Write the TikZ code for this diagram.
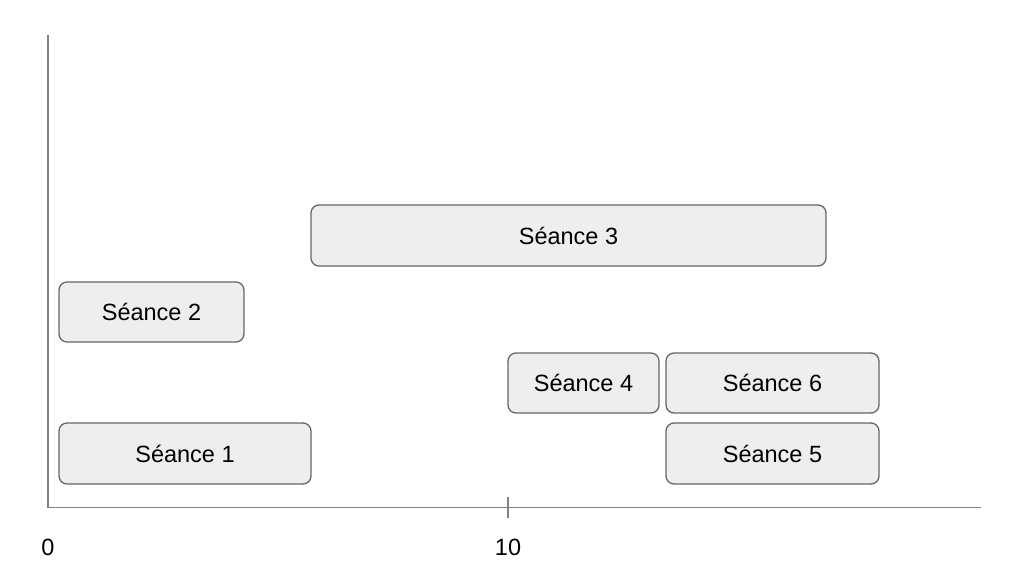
\documentclass[tikz,border=0pt]{standalone}
\usepackage{fontspec}
\setmainfont{Liberation Sans}
\definecolor{boxfill}{HTML}{EEEEEE}
\definecolor{boxline}{HTML}{666666}
\definecolor{axisline}{HTML}{808080}
\begin{document}
\begin{tikzpicture}[x=1pt,y=-1pt,
  seance/.style={draw=boxline,fill=boxfill,line width=1.3pt,rounded corners=8pt},
  lbl/.style={font=\fontsize{23.5}{28}\selectfont,text=black,inner sep=0pt},
  axis/.style={draw=axisline,line width=1.5pt}]
\useasboundingbox (0,0) rectangle (1036,564);
% axes
\coordinate (ytop) at (48,35);
\coordinate (origin) at (48,507.5);
\coordinate (xend) at (981,507.5);
\draw[axis] (ytop) -- (origin) -- (xend);
\coordinate (t10a) at (508,497);
\coordinate (t10b) at (508,518);
\draw[axis] (t10a) -- (t10b);
\node[lbl] (l0) at (48,547) {0};
\node[lbl] (l10) at (508,547) {10};
% sessions
\draw[seance] (311,205) rectangle (826,266);
\node[lbl] (s3) at (568.5,235.5) {Séance 3};
\draw[seance] (59,282) rectangle (244,342);
\node[lbl] (s2) at (151.5,312) {Séance 2};
\draw[seance] (508,353) rectangle (659,413);
\node[lbl] (s4) at (583.5,383) {Séance 4};
\draw[seance] (666,353) rectangle (879,413);
\node[lbl] (s6) at (772.5,383) {Séance 6};
\draw[seance] (59,423) rectangle (311,484);
\node[lbl] (s1) at (185,453.5) {Séance 1};
\draw[seance] (666,423) rectangle (879,484);
\node[lbl] (s5) at (772.5,453.5) {Séance 5};
\end{tikzpicture}
\end{document}
